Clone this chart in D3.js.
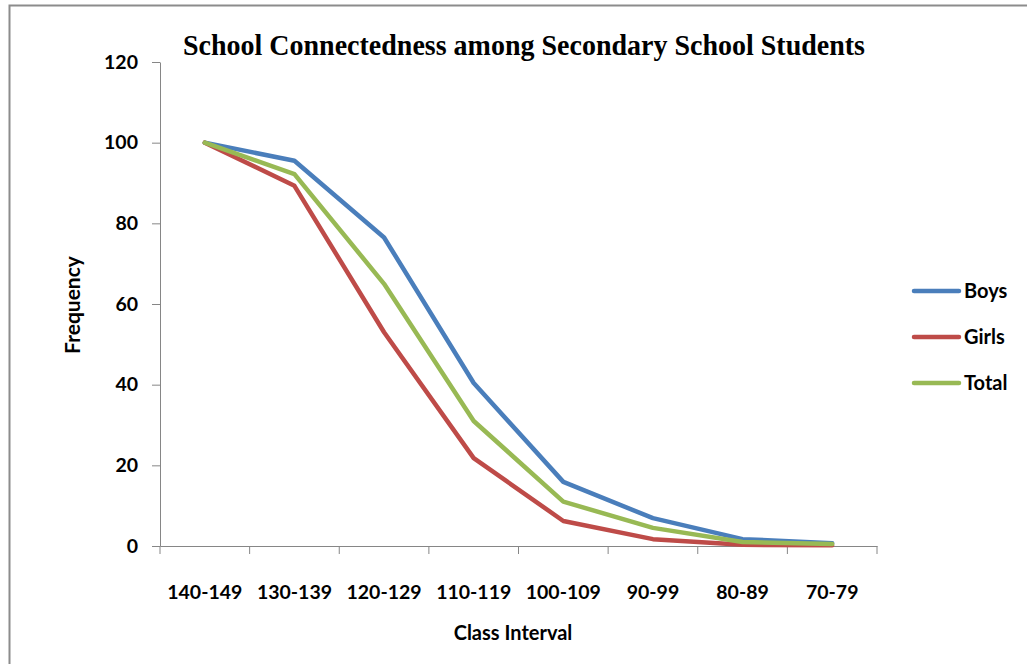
<!DOCTYPE html>
<html lang="en">
<head>
<meta charset="UTF-8">
<title>School Connectedness</title>
<script src="https://d3js.org/d3.v7.min.js"></script>
<style>
  body { margin: 0; background: #fff; }
  .chart text { font-family: Lato, "Open Sans", sans-serif; font-weight: bold; fill: #000; }
</style>
</head>
<body>
<div class="chart"></div>
<script>
  // data
  const classes = ['140-149', '130-139', '120-129', '110-119', '100-109', '90-99', '80-89', '70-79']
  const boys  = [100, 95.5, 76.5, 40.4, 15.9, 6.9, 1.7, 0.7]
  const girls = [100, 89.3, 53, 21.8, 6.2, 1.7, 0.3, 0.2]
  const total = [100, 92.2, 65, 31, 11, 4.5, 1, 0.5]
  const yTicks = [0, 20, 40, 60, 80, 100, 120]
  const seriesNames = ['Boys', 'Girls', 'Total']
  const colors = ['#4a7ebb', '#be4b48', '#98b954']

  const width = 1027, height = 664
  const plotLeft = 160, plotRight = 877, plotTop = 62, plotBottom = 546

  const svg = d3.select('.chart').append('svg')
    .attr('width', width).attr('height', height)

  // outer frame (only top and left edges show)
  svg.append('path')
    .attr('d', `M9.5,${height} L9.5,5.5 L${width},5.5`)
    .attr('fill', 'none').attr('stroke', '#8c8c8c').attr('stroke-width', 2)

  const x = d3.scaleBand().domain(classes).range([plotLeft, plotRight])
  const y = d3.scaleLinear().domain([0, 120]).range([plotBottom, plotTop])

  // axes
  const xAxis = svg.append('g')
    .attr('transform', `translate(0,${plotBottom})`)
    .call(d3.axisBottom(x).tickSize(0).tickSizeOuter(0).tickPadding(0))
  xAxis.select('.domain').attr('stroke', '#868686')
  xAxis.selectAll('text').attr('dy', null).attr('y', 53).style('font-size', '19.5px')
  // tick marks at band edges
  xAxis.selectAll('.edge')
    .data(classes.map(c => x(c)).concat([plotRight]))
    .join('line')
    .attr('x1', d => d).attr('x2', d => d)
    .attr('y1', 0).attr('y2', 8)
    .attr('stroke', '#868686')

  const yAxis = svg.append('g')
    .attr('transform', `translate(${plotLeft},0)`)
    .call(d3.axisLeft(y).tickValues(yTicks).tickSize(8).tickSizeOuter(0).tickPadding(14))
  yAxis.select('.domain').attr('stroke', '#868686')
  yAxis.selectAll('.tick line').attr('stroke', '#868686')
  yAxis.selectAll('text').style('font-size', '19.5px')

  // lines
  const line = d3.line()
    .x((d, i) => x(classes[i]) + x.bandwidth() / 2)
    .y(d => y(d))

  ;[boys, girls, total].forEach((s, k) => {
    svg.append('path')
      .attr('d', line(s))
      .attr('fill', 'none')
      .attr('stroke', colors[k])
      .attr('stroke-width', 4.5)
      .attr('stroke-linejoin', 'round')
      .attr('stroke-linecap', 'round')
  })

  // title
  svg.append('text')
    .attr('x', 183).attr('y', 55)
    .attr('textLength', 682).attr('lengthAdjust', 'spacingAndGlyphs')
    .style('font-family', '"Liberation Serif", serif')
    .style('font-size', '30px')
    .text('School Connectedness among Secondary School Students')

  // axis titles
  svg.append('text')
    .attr('transform', 'translate(80,305) rotate(-90)')
    .attr('text-anchor', 'middle')
    .style('font-size', '21px')
    .text('Frequency')

  svg.append('text')
    .attr('x', 513).attr('y', 640)
    .attr('text-anchor', 'middle')
    .style('font-size', '20px')
    .text('Class Interval')

  // legend
  const legend = svg.append('g')
  seriesNames.forEach((n, k) => {
    const ly = 291 + k * 46
    legend.append('line')
      .attr('x1', 914).attr('x2', 959).attr('y1', ly).attr('y2', ly)
      .attr('stroke', colors[k]).attr('stroke-width', 4.5).attr('stroke-linecap', 'round')
    legend.append('text')
      .attr('x', 964).attr('y', ly + 7)
      .style('font-size', '20px')
      .text(n)
  })
</script>
</body>
</html>
